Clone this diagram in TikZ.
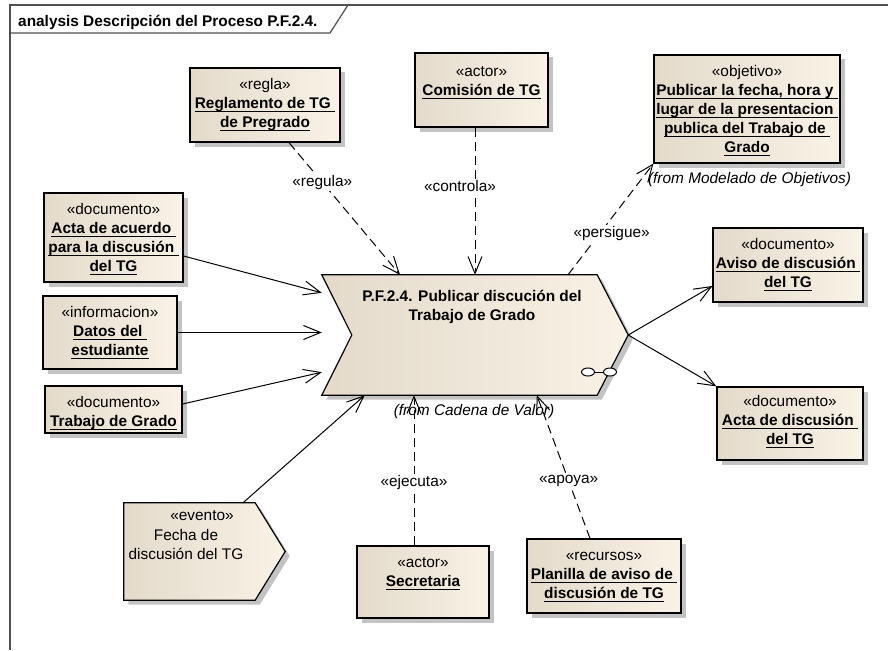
\documentclass[tikz,border=0pt]{standalone}
\usepackage{fontspec}
\setmainfont{Liberation Sans}
\usetikzlibrary{arrows.meta,shadows,calc}
\definecolor{fillL}{RGB}{227,218,202}
\definecolor{fillR}{RGB}{249,242,230}
\definecolor{shadowc}{RGB}{195,195,195}
\definecolor{framec}{RGB}{80,80,80}
\newcommand\myul[1]{\setbox0\hbox{#1}\rlap{\rule[-3.5pt]{\wd0}{1pt}}\box0}
\newcommand\umlfont{\fontsize{15.4}{19}\selectfont}
\tikzset{
  elem/.style={draw=black, line width=1.2pt, drop shadow={shadow xshift=4.5pt,shadow yshift=-4.5pt,fill=shadowc,opacity=1}, left color=fillL, right color=fillR, rectangle, inner sep=0pt},
  ghost/.style={rectangle, inner sep=0pt, draw=none},
  txt/.style={inner sep=0pt, anchor=north, font=\umlfont},
  dep/.style={draw=black, line width=1pt, dash pattern=on 9pt off 5pt, -{Straight Barb[length=17pt,width=14pt]}},
  flow/.style={draw=black, line width=1pt, -{Straight Barb[length=17pt,width=14pt]}},
  lbl/.style={fill=white, inner sep=1.5pt, font=\umlfont},
  fromtxt/.style={inner sep=0pt, font=\umlfont\itshape},
  frame/.style={draw=framec, line width=1.2pt}
}
\begin{document}
\begin{tikzpicture}[x=1pt,y=-1pt]
\useasboundingbox (0,0) rectangle (888,650);
% frame
\draw[frame] (10,650) -- (10,5) -- (888,5);
\draw[frame] (10,33) -- (330,33) -- (348,5);
\node[anchor=base west, inner sep=0pt, font=\umlfont\bfseries] (title) at (18,26.5) {analysis Descripción del Proceso P.F.2.4.};

% boxes
\node[elem, minimum width=150pt, minimum height=74pt] (regla) at (265,105) {};
\node[elem, minimum width=133pt, minimum height=74pt] (comision) at (481.5,90) {};
\node[elem, minimum width=186pt, minimum height=108pt] (objetivo) at (747,109) {};
\node[elem, minimum width=139pt, minimum height=89pt] (actaA) at (113.5,237.5) {};
\node[elem, minimum width=134pt, minimum height=73pt] (datos) at (110,332.5) {};
\node[elem, minimum width=137pt, minimum height=47pt] (trabajo) at (113.5,409.5) {};
\node[elem, minimum width=150pt, minimum height=74pt] (aviso) at (788,265) {};
\node[elem, minimum width=146pt, minimum height=73pt] (actaD) at (790,423.5) {};
\node[elem, minimum width=132pt, minimum height=72pt] (secretaria) at (423,582) {};
\node[elem, minimum width=154pt, minimum height=74pt] (planilla) at (604,576) {};

% process chevron
\node[ghost, minimum width=306pt, minimum height=120pt] (proc) at (475,335) {};
\path[elem] (proc.north west) -- ([xshift=-31pt]proc.north east) -- (proc.east) -- ([xshift=-31pt]proc.south east) -- (proc.south west) -- ([xshift=30pt]proc.west) -- cycle;
\draw[line width=1pt, fill=white] (588,372) ellipse [x radius=6.5pt, y radius=4pt];
\draw[line width=1pt, fill=white] (610,372) ellipse [x radius=6.5pt, y radius=4pt];
\draw[line width=1pt] (594.5,372) -- (603.5,372);

% event
\node[ghost, minimum width=161pt, minimum height=97pt] (ev) at (204.5,551.5) {};
\path[elem] (ev.north west) -- ([xshift=-30pt]ev.north east) -- (ev.east) -- ([xshift=-30pt]ev.south east) -- (ev.south west) -- cycle;

% texts
\node[txt] (reglaT) at ([yshift=-9pt]regla.north) {\begin{tabular}{@{}c@{}}«regla»\\ \bfseries\myul{Reglamento de TG\ }\\ \bfseries\myul{de Pregrado}\end{tabular}};
\node[txt] (comisionT) at ([yshift=-11pt]comision.north) {\begin{tabular}{@{}c@{}}«actor»\\ \bfseries\myul{Comisión de TG}\end{tabular}};
\node[txt] (objetivoT) at ([yshift=-9pt]objetivo.north) {\begin{tabular}{@{}c@{}}«objetivo»\\ \bfseries\myul{Publicar la fecha, hora y\ }\\ \bfseries\myul{lugar de la presentacion\ }\\ \bfseries\myul{publica del Trabajo de\ }\\ \bfseries\myul{Grado}\end{tabular}};
\node[txt] (actaAT) at ([yshift=-9pt]actaA.north) {\begin{tabular}{@{}c@{}}«documento»\\ \bfseries\myul{Acta de acuerdo\ }\\ \bfseries\myul{para la discusión\ }\\ \bfseries\myul{del TG}\end{tabular}};
\node[txt] (datosT) at ([yshift=-9pt]datos.north) {\begin{tabular}{@{}c@{}}«informacion»\\ \bfseries\myul{Datos del\ }\\ \bfseries\myul{estudiante}\end{tabular}};
\node[txt] (trabajoT) at ([yshift=-9pt]trabajo.north) {\begin{tabular}{@{}c@{}}«documento»\\ \bfseries\myul{Trabajo de Grado}\end{tabular}};
\node[txt] (avisoT) at ([yshift=-9pt]aviso.north) {\begin{tabular}{@{}c@{}}«documento»\\ \bfseries\myul{Aviso de discusión\ }\\ \bfseries\myul{del TG}\end{tabular}};
\node[txt] (actaDT) at ([yshift=-7pt]actaD.north) {\begin{tabular}{@{}c@{}}«documento»\\ \bfseries\myul{Acta de discusión\ }\\ \bfseries\myul{del TG}\end{tabular}};
\node[txt] (secretariaT) at ([yshift=-9pt]secretaria.north) {\begin{tabular}{@{}c@{}}«actor»\\ \bfseries\myul{Secretaria}\end{tabular}};
\node[txt] (planillaT) at ([yshift=-9pt]planilla.north) {\begin{tabular}{@{}c@{}}«recursos»\\ \bfseries\myul{Planilla de aviso de\ }\\ \bfseries\myul{discusión de TG}\end{tabular}};
\node[txt] (procT) at (472,288) {\begin{tabular}{@{}c@{}}\bfseries P.F.2.4. Publicar discución del\\ \bfseries Trabajo de Grado\end{tabular}};
\node[txt] (evS) at (202,507) {\begin{tabular}{@{}c@{}}«evento»\end{tabular}};
\node[txt] (evT) at (186,527) {\begin{tabular}{@{}c@{}}Fecha de\\ discusión del TG\end{tabular}};
\node[fromtxt] (fromObj) at (749.5,180) {(from Modelado de Objetivos)};
\node[fromtxt] (fromCad) at (474,412) {(from Cadena de Valor)};

% anchor points
\coordinate (pT1) at ([xshift=-75pt]proc.north);
\coordinate (pT3) at ([xshift=93pt]proc.north);
\coordinate (pL1) at ([yshift=-18pt]proc.north west);
\coordinate (pL3) at ([yshift=23pt]proc.south west);
\coordinate (pB1) at ([xshift=43pt]proc.south west);
\coordinate (pB3) at ([xshift=215pt]proc.south west);
\coordinate (rS) at ([xshift=24pt]regla.south);
\coordinate (aS) at ([yshift=-18.5pt]actaA.east);
\coordinate (tS) at ([yshift=5.5pt]trabajo.east);
\coordinate (eS) at ([xshift=38.5pt]ev.north);
\coordinate (sS) at ([xshift=-9pt]secretaria.north);
\coordinate (plS) at ([xshift=-14pt]planilla.north);
\coordinate (avE) at ([yshift=-21pt]aviso.west);

% connectors
\draw[dep] (rS) -- node[lbl, pos=0.3] (lRegula) {«regula»} (pT1);
\draw[dep] (proc.north |- comision.south) -- node[lbl, pos=0.4, xshift=-15pt] (lControla) {«controla»} (proc.north);
\draw[dep] (pT3) -- node[lbl, pos=0.37, xshift=12pt] (lPersigue) {«persigue»} (objetivo.south west);
\draw[flow] (aS) -- (pL1);
\draw[flow] (datos.east) -- (proc.west |- datos.east);
\draw[flow] (tS) -- (pL3);
\draw[flow] (eS) -- (pB1);
\draw[dep] (sS) -- node[lbl, pos=0.417] (lEjecuta) {«ejecuta»} (sS |- proc.south);
\draw[dep] (plS) -- node[lbl, pos=0.4] (lApoya) {«apoya»} (pB3);
\draw[flow] (proc.east) -- (avE);
\draw[flow] (proc.east) -- (actaD.north west);
\end{tikzpicture}
\end{document}
